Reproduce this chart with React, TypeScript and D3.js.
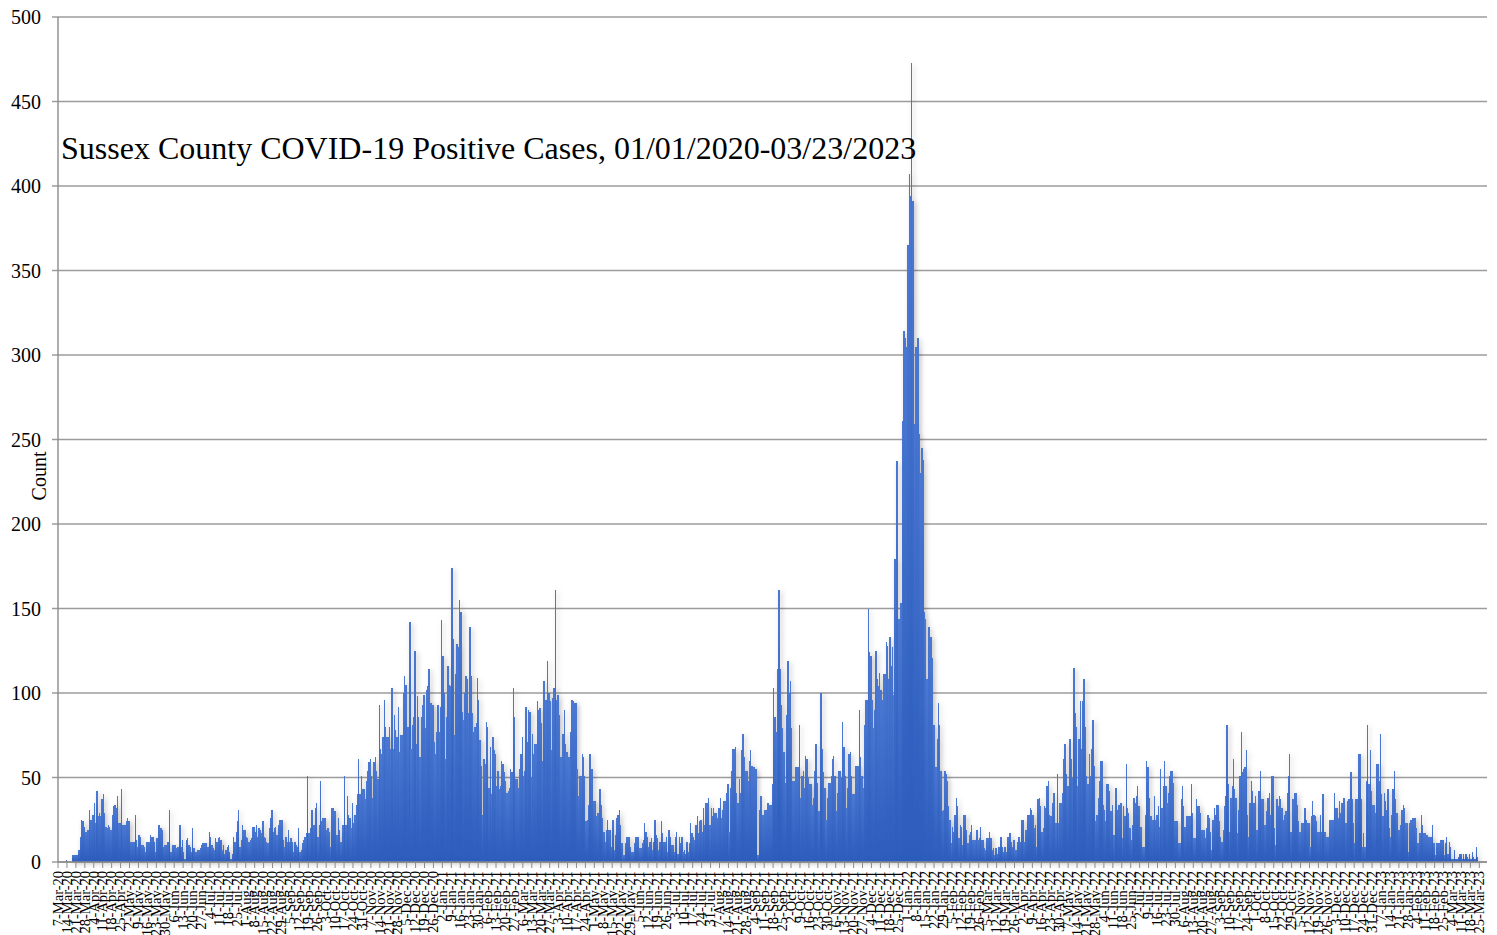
import React from "react";
import * as d3 from "d3";

// daily positive cases, one array per month (index 0 = day 1)
const mar2020 = [0,0,0,0,0,0,0,0,0,0,0,0,1,0,0,0,0,4,4,4,4,4,7,15,25,24,21,18,18,19,31];
const apr2020 = [25,25,28,35,23,42,27,29,27,37,40,29,21,20,22,21,19,28,33,34,32,39,23,23,43,22,22,22,24,26];
const may2020 = [24,12,12,12,12,28,13,9,16,15,10,10,9,6,12,12,12,16,15,15,12,6,14,22,22,20,19,9,10,10,12];
const jun2020 = [12,31,6,10,10,10,8,9,9,22,9,13,6,2,13,14,10,9,6,20,8,6,6,7,7,8,10,11,11,11];
const jul2020 = [11,9,18,15,10,8,7,14,12,14,15,13,7,10,5,7,9,10,6,2,5,15,12,18,24,31,9,13,22,19,19];
const aug2020 = [15,14,12,13,14,21,21,18,22,15,20,19,17,24,15,14,12,11,20,26,31,18,20,21,16,22,25,25,25,13,9];
const sep2020 = [15,12,19,12,14,12,6,12,10,9,20,6,7,11,13,15,17,51,17,20,31,31,22,32,35,15,22,48,24,26];
const oct2020 = [26,26,19,20,18,9,32,32,30,30,16,26,19,12,22,22,51,22,39,28,26,20,35,23,28,34,40,61,40,51,43];
const nov2020 = [43,37,48,54,59,61,51,38,59,62,54,49,93,67,64,74,96,80,74,74,80,67,103,67,87,78,74,92,65,75];
const dec2020 = [75,100,110,105,80,80,142,67,81,86,125,70,98,86,62,86,93,99,79,102,104,114,94,94,93,71,64,77,93,77,92];
const jan2021 = [143,122,100,61,86,116,105,104,174,132,75,111,129,127,155,148,89,84,100,110,108,88,139,110,88,77,80,82,109,96,72];
const feb2021 = [57,28,61,58,83,80,44,68,40,74,66,64,45,54,43,45,60,58,53,48,41,42,44,55,53,103,86,49];
const mar2021 = [49,44,55,64,74,51,54,92,71,90,89,50,76,64,70,70,95,90,91,82,60,107,96,96,119,100,95,66,97,103,161];
const apr2021 = [96,99,87,62,62,76,90,70,65,62,62,77,96,95,94,94,55,39,51,51,64,62,51,24,25,34,64,55,55,36];
const may2021 = [36,27,29,29,43,34,26,18,12,19,25,19,19,9,25,7,16,26,28,31,22,11,4,4,11,15,15,15,9,6,6];
const jun2021 = [11,15,15,15,8,8,11,13,23,18,15,9,12,14,7,12,25,16,14,7,12,24,17,12,12,15,6,19,15,10];
const jul2021 = [10,6,15,18,5,15,11,15,6,7,5,12,6,11,23,17,15,13,22,27,17,24,25,18,32,22,35,35,38,22,32];
const aug2021 = [27,32,29,29,26,32,38,26,31,36,36,41,46,18,44,54,67,67,68,41,35,49,41,66,76,62,54,54,48,60,66];
const sep2021 = [57,56,56,55,4,4,31,39,28,28,31,31,35,35,34,34,46,103,86,77,114,161,114,93,79,65,47,87,119,100];
const oct2021 = [107,79,48,48,56,56,56,81,38,51,54,44,63,61,50,46,46,34,38,54,70,47,30,30,100,67,53,44,25,38,47];
const nov2021 = [47,51,61,63,51,30,41,54,54,50,83,68,51,32,44,64,65,51,40,40,57,57,57,90,62,51,44,81,96,96];
const dec2021 = [150,124,122,96,79,90,125,108,104,112,102,96,111,111,130,128,108,133,116,127,99,179,237,237,144,153,153,261,314,310,305];
const jan2022 = [365,407,394,473,391,259,305,305,310,253,230,245,238,148,144,108,139,139,133,121,81,81,56,73,94,81,54,30,31,54,52];
const feb2022 = [48,33,25,11,21,18,28,38,33,14,22,21,10,28,28,19,11,16,18,22,13,13,13,19,13,14,21,13];
const mar2022 = [13,8,7,14,14,18,14,7,8,4,8,5,9,9,15,9,6,9,6,15,15,17,12,9,13,7,7,12,15,12,25];
const apr2022 = [25,12,19,19,28,28,32,31,28,20,22,9,37,38,33,18,20,33,32,45,48,28,27,35,41,41,23,52,23,35];
const may2022 = [35,41,61,70,52,45,45,73,61,50,115,88,80,45,73,95,67,95,108,80,51,46,64,51,67,84,57,24,28,38,48];
const jun2022 = [60,60,34,31,24,46,46,42,30,34,16,16,44,31,34,34,35,14,33,27,58,32,29,20,13,22,38,35,39,45];
const jul2022 = [33,21,21,9,9,28,60,56,38,27,27,25,39,25,28,33,21,55,32,45,60,45,35,41,51,54,54,47,24,24,24];
const aug2022 = [11,11,37,45,33,21,27,27,27,27,46,29,14,14,37,33,33,29,19,19,19,14,20,28,26,18,7,25,32,28,34];
const sep2022 = [34,24,15,12,19,33,39,81,46,18,38,45,61,43,38,17,31,51,77,53,55,56,66,28,15,35,48,42,35,39];
const oct2022 = [19,19,42,54,37,37,22,22,30,38,41,28,51,51,20,10,37,33,39,37,32,25,28,30,41,51,64,18,37,37,41];
const nov2022 = [41,34,24,18,23,23,23,32,25,23,23,9,27,36,28,27,24,18,18,28,18,40,18,18,15,15,25,25,25,25];
const dec2022 = [41,32,32,26,36,29,35,38,38,23,36,37,37,53,37,23,11,37,37,64,64,37,9,17,9,48,81,46,66,42,34];
const jan2023 = [34,29,58,58,48,76,40,27,41,36,31,43,20,15,28,43,54,37,29,19,19,22,31,34,32,23,23,6,23,25,26];
const feb2023 = [26,26,20,11,11,17,28,22,17,17,16,16,15,15,15,22,11,4,11,11,11,13,13,13,4,11,15,5];
const mar2023 = [12,9,2,2,7,2,2,3,5,5,2,5,2,5,3,2,5,2,6,3,2,9,3];

// [year, month index, values]
const months: [number, number, number[]][] = [
  [2020, 2, mar2020], [2020, 3, apr2020], [2020, 4, may2020], [2020, 5, jun2020],
  [2020, 6, jul2020], [2020, 7, aug2020], [2020, 8, sep2020], [2020, 9, oct2020],
  [2020, 10, nov2020], [2020, 11, dec2020],
  [2021, 0, jan2021], [2021, 1, feb2021], [2021, 2, mar2021], [2021, 3, apr2021],
  [2021, 4, may2021], [2021, 5, jun2021], [2021, 6, jul2021], [2021, 7, aug2021],
  [2021, 8, sep2021], [2021, 9, oct2021], [2021, 10, nov2021], [2021, 11, dec2021],
  [2022, 0, jan2022], [2022, 1, feb2022], [2022, 2, mar2022], [2022, 3, apr2022],
  [2022, 4, may2022], [2022, 5, jun2022], [2022, 6, jul2022], [2022, 7, aug2022],
  [2022, 8, sep2022], [2022, 9, oct2022], [2022, 10, nov2022], [2022, 11, dec2022],
  [2023, 0, jan2023], [2023, 1, feb2023], [2023, 2, mar2023],
];

const yTicks = [0, 50, 100, 150, 200, 250, 300, 350, 400, 450, 500];
const title = "Sussex County COVID-19 Positive Cases, 01/01/2020-03/23/2023";

const axisStart = new Date(Date.UTC(2020, 2, 7));
const axisEnd = new Date(Date.UTC(2023, 2, 31));
const lastTick = new Date(Date.UTC(2023, 2, 26));

const W = 1497;
const H = 935;
const left = 58;
const right = 1487;
const top = 17;
const bottom = 862;
const font = "'Liberation Serif', 'Times New Roman', serif";

export default function App() {
  const x = d3.scaleUtc().domain([axisStart, axisEnd]).range([left, right]);
  const y = d3.scaleLinear().domain([0, 500]).range([bottom, top]);

  const series: { date: Date; value: number }[] = [];
  months.forEach(([yr, mo, vals]) => {
    vals.forEach((v, i) => {
      const date = new Date(Date.UTC(yr, mo, i + 1));
      if (date >= axisStart) series.push({ date, value: v });
    });
  });

  const dayW = x(d3.utcDay.offset(axisStart, 1)) - x(axisStart);
  const barW = dayW * 1.05;
  const weeks = d3.utcDay.range(axisStart, lastTick, 7);
  const fmt = d3.utcFormat("%-d-%b-%y");

  return (
    <svg
      width={W}
      height={H}
      style={{ position: "absolute", left: 0, top: 0, display: "block", background: "#fff" }}
      fontFamily={font}
    >
      <defs>
        <linearGradient id="barFill" x1="0" y1="0" x2="0" y2="1">
          <stop offset="0%" stopColor="#4a78d2" />
          <stop offset="100%" stopColor="#2c5cbc" />
        </linearGradient>
        <filter id="shadow" x="-2%" y="-5%" width="104%" height="110%">
          <feDropShadow dx="2" dy="1.5" stdDeviation="2.5" floodColor="#000" floodOpacity="0.25" />
        </filter>
      </defs>

      {/* gridlines + y ticks */}
      {yTicks.map((t) => (
        <g key={t}>
          <line x1={52} x2={right} y1={y(t)} y2={y(t)} stroke="#9c9c9c" strokeWidth={1.4} />
          <text x={41} y={y(t)} dy="0.35em" textAnchor="end" fontSize={20} fill="#000">
            {t}
          </text>
        </g>
      ))}

      {/* bars */}
      <g filter="url(#shadow)" shapeRendering="crispEdges">
        {series.map((d, i) => (
          <rect
            key={i}
            x={x(d.date)}
            y={y(d.value)}
            width={barW}
            height={bottom - y(d.value)}
            fill="url(#barFill)"
          />
        ))}
      </g>

      {/* axes */}
      <line x1={left} x2={left} y1={top} y2={bottom} stroke="#8c8c8c" strokeWidth={1.4} />
      <line x1={left} x2={right} y1={bottom} y2={bottom} stroke="#8c8c8c" strokeWidth={1.6} />
      {weeks.map((w, i) => (
        <g key={i}>
          <line x1={x(w)} x2={x(w)} y1={bottom} y2={bottom + 6} stroke="#8c8c8c" strokeWidth={1} />
          <text
            transform={`translate(${x(w)},${bottom + 9}) rotate(-90)`}
            dy="0.33em"
            textAnchor="end"
            fontSize={14.5}
            fill="#000"
          >
            {fmt(w)}
          </text>
        </g>
      ))}

      {/* y axis title */}
      <text transform={`translate(46,476) rotate(-90)`} textAnchor="middle" fontSize={20} fill="#000">
        Count
      </text>

      {/* chart title */}
      <text x={61} y={159} fontSize={32} fill="#000">
        {title}
      </text>
    </svg>
  );
}
